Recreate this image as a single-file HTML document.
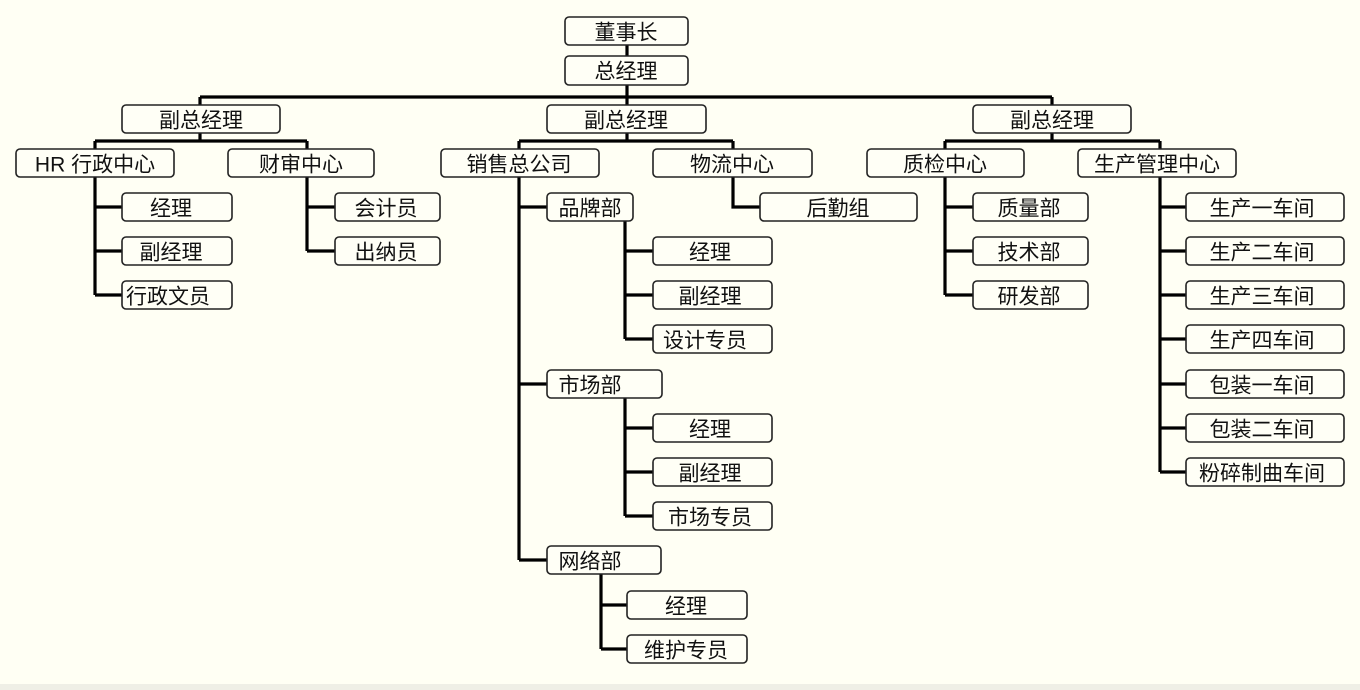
<!DOCTYPE html>
<html><head><meta charset="utf-8"><style>
html,body{margin:0;padding:0;background:#fffff4;}
svg{display:block}
text{font-family:"Liberation Sans","Noto Sans CJK SC",sans-serif;font-size:21px;fill:#111;text-anchor:middle;dominant-baseline:central}
rect{fill:#fffff6;stroke:#222;stroke-width:1.6}
.l{stroke:#000;stroke-width:3.2;fill:none}
</style></head><body>
<svg width="1360" height="690" viewBox="0 0 1360 690" xmlns="http://www.w3.org/2000/svg">
<g class="l">
<path d="M627 45V56 M627 85V97 M200 97H1052 M200 97V105 M627 97V105 M1052 97V105"/>
<path d="M200 133V141 M95 141H307 M95 141V149 M307 141V149"/>
<path d="M95 177V295 M95 207H122 M95 251H122 M95 295H122"/>
<path d="M307 177V251 M307 207H335 M307 251H335"/>
<path d="M627 133V141 M519 141H733 M519 141V149 M733 141V149"/>
<path d="M733 177V207H760"/>
<path d="M519 177V560 M519 207H547 M519 384H547 M519 560H547"/>
<path d="M625 221V339 M625 251H653 M625 295H653 M625 339H653"/>
<path d="M625 398V516 M625 428H653 M625 472H653 M625 516H653"/>
<path d="M601 574V649 M601 605H627 M601 649H627"/>
<path d="M1052 133V141 M945 141H1160 M945 141V149 M1160 141V149"/>
<path d="M945 177V295 M945 207H973 M945 251H973 M945 295H973"/>
<path d="M1160 177V472 M1160 207H1186 M1160 251H1186 M1160 295H1186 M1160 339H1186 M1160 384H1186 M1160 428H1186 M1160 472H1186"/>
</g>
<g transform="translate(0,0)">
<rect x="565" y="17" width="123" height="28" rx="4"/>
<rect x="565" y="56" width="123" height="29" rx="4"/>
<rect x="122" y="105" width="158" height="28" rx="4"/>
<rect x="547" y="105" width="159" height="28" rx="4"/>
<rect x="973" y="105" width="158" height="28" rx="4"/>
<rect x="16" y="149" width="158" height="28" rx="4"/>
<rect x="228" y="149" width="146" height="28" rx="4"/>
<rect x="441" y="149" width="158" height="28" rx="4"/>
<rect x="653" y="149" width="159" height="28" rx="4"/>
<rect x="867" y="149" width="157" height="28" rx="4"/>
<rect x="1078" y="149" width="158" height="28" rx="4"/>
<rect x="122" y="193" width="110" height="28" rx="4"/>
<rect x="122" y="237" width="110" height="28" rx="4"/>
<rect x="122" y="281" width="110" height="28" rx="4"/>
<rect x="335" y="193" width="105" height="28" rx="4"/>
<rect x="335" y="237" width="105" height="28" rx="4"/>
<rect x="760" y="193" width="157" height="28" rx="4"/>
<rect x="547" y="193" width="86" height="28" rx="4"/>
<rect x="653" y="237" width="119" height="28" rx="4"/>
<rect x="653" y="281" width="119" height="28" rx="4"/>
<rect x="653" y="325" width="119" height="28" rx="4"/>
<rect x="547" y="370" width="115" height="28" rx="4"/>
<rect x="653" y="414" width="119" height="28" rx="4"/>
<rect x="653" y="458" width="119" height="28" rx="4"/>
<rect x="653" y="502" width="119" height="28" rx="4"/>
<rect x="547" y="546" width="114" height="28" rx="4"/>
<rect x="627" y="591" width="120" height="28" rx="4"/>
<rect x="627" y="635" width="120" height="28" rx="4"/>
<rect x="973" y="193" width="115" height="28" rx="4"/>
<rect x="973" y="237" width="115" height="28" rx="4"/>
<rect x="973" y="281" width="115" height="28" rx="4"/>
<rect x="1186" y="193" width="158" height="28" rx="4"/>
<rect x="1186" y="237" width="158" height="28" rx="4"/>
<rect x="1186" y="281" width="158" height="28" rx="4"/>
<rect x="1186" y="325" width="158" height="28" rx="4"/>
<rect x="1186" y="370" width="158" height="28" rx="4"/>
<rect x="1186" y="414" width="158" height="28" rx="4"/>
<rect x="1186" y="458" width="158" height="28" rx="4"/>
</g>
<g transform="translate(0,2)">
<text x="626" y="31">董事长</text>
<text x="626" y="70">总经理</text>
<text x="201" y="119">副总经理</text>
<text x="626" y="119">副总经理</text>
<text x="1052" y="119">副总经理</text>
<text x="95" y="163">HR 行政中心</text>
<text x="301" y="163">财审中心</text>
<text x="519" y="163">销售总公司</text>
<text x="732" y="163">物流中心</text>
<text x="945" y="163">质检中心</text>
<text x="1157" y="163">生产管理中心</text>
<text x="171" y="207">经理</text>
<text x="171" y="251">副经理</text>
<text x="168" y="295">行政文员</text>
<text x="386" y="207">会计员</text>
<text x="386" y="251">出纳员</text>
<text x="838" y="207">后勤组</text>
<text x="590" y="207">品牌部</text>
<text x="710" y="251">经理</text>
<text x="710" y="295">副经理</text>
<text x="705" y="339">设计专员</text>
<text x="590" y="384">市场部</text>
<text x="710" y="428">经理</text>
<text x="710" y="472">副经理</text>
<text x="710" y="516">市场专员</text>
<text x="590" y="560">网络部</text>
<text x="686" y="605">经理</text>
<text x="686" y="649">维护专员</text>
<text x="1029" y="207">质量部</text>
<text x="1029" y="251">技术部</text>
<text x="1029" y="295">研发部</text>
<text x="1262" y="207">生产一车间</text>
<text x="1262" y="251">生产二车间</text>
<text x="1262" y="295">生产三车间</text>
<text x="1262" y="339">生产四车间</text>
<text x="1262" y="384">包装一车间</text>
<text x="1262" y="428">包装二车间</text>
<text x="1262" y="472">粉碎制曲车间</text>
</g>
<rect x="0" y="684" width="1360" height="6" style="fill:#efefe6;stroke:none"/>
</svg>
</body></html>
